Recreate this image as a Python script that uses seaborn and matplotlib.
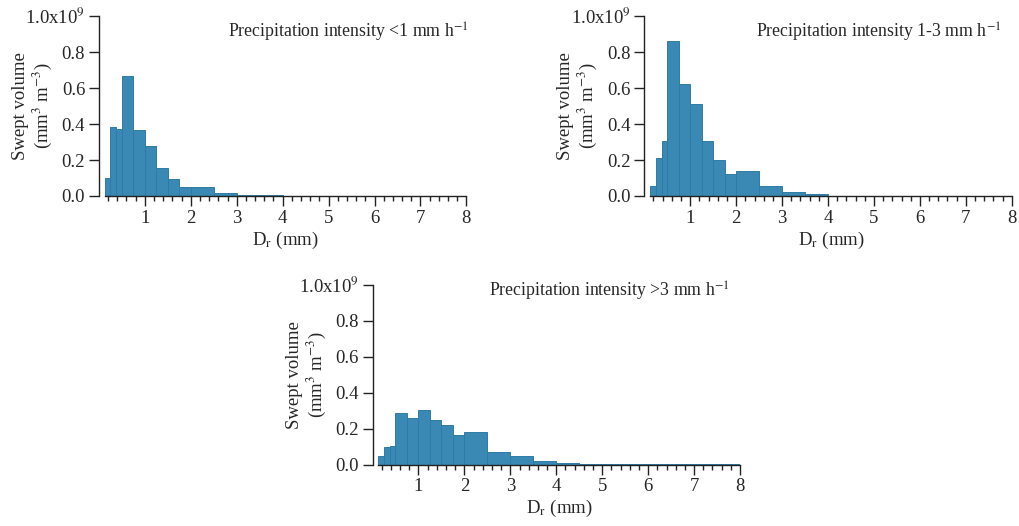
import numpy as np
import pandas as pd
import matplotlib
matplotlib.use("Agg")
import matplotlib.pyplot as plt
import seaborn as sns
from matplotlib.ticker import MultipleLocator, FixedLocator

# ---- data -------------------------------------------------------------
bin_edges = [0.125, 0.25, 0.375, 0.5, 0.75, 1.0, 1.25, 1.5, 1.75, 2.0,
             2.5, 3.0, 3.5, 4.0, 4.5, 5.0, 5.5, 6.0, 6.5, 7.0, 7.5, 8.0]

# swept volume (mm^3 m^-3), in units of 1e9
vol_lt1 = [0.100, 0.385, 0.372, 0.665, 0.365, 0.276, 0.154, 0.093, 0.052,
           0.050, 0.018, 0.007, 0.003, 0.0015, 0.001, 0.0005, 0.0004,
           0.0003, 0.0002, 0.0001, 0.0001]
vol_1to3 = [0.054, 0.211, 0.306, 0.861, 0.622, 0.511, 0.306, 0.200, 0.122,
            0.139, 0.058, 0.023, 0.009, 0.002, 0.001, 0.0006, 0.0004,
            0.0003, 0.0002, 0.0001, 0.0001]
vol_gt3 = [0.048, 0.096, 0.103, 0.289, 0.257, 0.305, 0.250, 0.217, 0.163,
           0.179, 0.068, 0.045, 0.021, 0.009, 0.003, 0.002, 0.001, 0.001,
           0.0005, 0.0004, 0.0003]

titles = ["Precipitation intensity <1 mm h$^{-1}$",
          "Precipitation intensity 1-3 mm h$^{-1}$",
          "Precipitation intensity >3 mm h$^{-1}$"]
ytick_vals = [0.0, 0.2, 0.4, 0.6, 0.8, 1.0]
ytick_labels = ["0.0", "0.2", "0.4", "0.6", "0.8", "1.0x10$^{9}$"]
xtick_vals = [1, 2, 3, 4, 5, 6, 7, 8]
scale = 1e9

# ---- style ------------------------------------------------------------
sns.set_theme(style="ticks")
plt.rcParams["font.family"] = ["Liberation Serif", "DejaVu Serif"]
plt.rcParams["mathtext.fontset"] = "stix"
plt.rcParams["font.size"] = 13.5

bar_color = "#3A89B4"
edge_color = "#2F7BA5"

fig = plt.figure(figsize=(10.19, 5.26), dpi=100)
W, H = 0.355, 0.342
axes_rects = [
    [0.1027, 0.6274, W, H],
    [0.6379, 0.6274, W, H],
    [0.3712, 0.1169, W, H],
]
title_pos = [(0.341, 0.878), (0.292, 0.878), (0.305, 0.93)]

series = [vol_lt1, vol_1to3, vol_gt3]
edges = np.array(bin_edges)
centers = (edges[:-1] + edges[1:]) / 2

for rect, vals, title, tpos in zip(axes_rects, series, titles, title_pos):
    ax = fig.add_axes(rect)
    df = pd.DataFrame({"D": centers, "V": np.array(vals) * scale})
    sns.histplot(data=df, x="D", weights="V", bins=bin_edges, ax=ax,
                 color=bar_color, edgecolor=edge_color, linewidth=0.7,
                 alpha=1.0, stat="count")
    ax.set_xlim(0.125, 8.0)
    ax.set_ylim(0, 1.0 * scale)
    ax.xaxis.set_major_locator(FixedLocator(xtick_vals))
    ax.xaxis.set_minor_locator(MultipleLocator(0.2))
    ax.set_xticklabels([str(v) for v in xtick_vals])
    ax.set_yticks([v * scale for v in ytick_vals])
    ax.set_yticklabels(ytick_labels)
    ax.tick_params(axis="both", which="major", direction="out", length=7,
                   width=1.0, color="#222222", labelsize=13.5, pad=3)
    ax.tick_params(axis="x", which="minor", direction="out", length=3.6,
                   width=1.0, color="#222222")
    for s in ["top", "right"]:
        ax.spines[s].set_visible(False)
    for s in ["left", "bottom"]:
        ax.spines[s].set_linewidth(1.0)
        ax.spines[s].set_color("#222222")
    ax.spines["left"].set_position(("outward", 4))
    ax.set_xlabel("D$_\\mathrm{r}$ (mm)", fontsize=13.5, labelpad=2)
    ax.set_ylabel("")
    ax.text(-0.198, 0.5, "Swept volume\n(mm$^3$ m$^{-3}$)", rotation=90,
            ha="center", va="center", multialignment="center",
            transform=ax.transAxes, fontsize=13.5, linespacing=1.1)
    ax.text(tpos[0], tpos[1], title, transform=ax.transAxes,
            ha="left", va="baseline", fontsize=12.8)

fig.savefig("out.png", dpi=100)
